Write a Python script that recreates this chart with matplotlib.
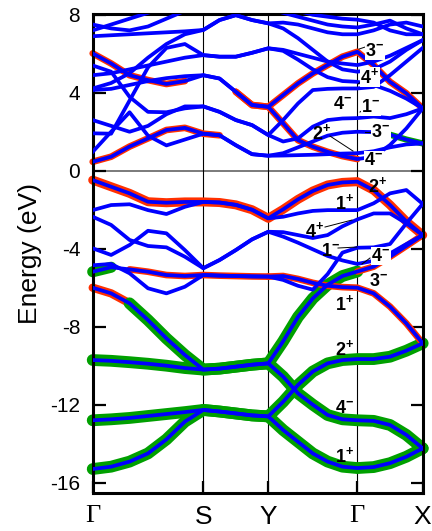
import numpy as np
import matplotlib.pyplot as plt

plt.rcParams['font.family'] = ['Liberation Sans', 'DejaVu Sans']
plt.rcParams['mathtext.fontset'] = 'custom'
plt.rcParams['mathtext.rm'] = 'Liberation Sans'
plt.rcParams['mathtext.bf'] = 'Liberation Sans:bold'

# high-symmetry path
kpath_labels = ['Γ', 'S', 'Y', 'Γ', 'X']
kpath_pos = [0.0, 110.6, 175.6, 264.6, 330.0]
seg_pts = [7, 5, 7, 5]

k = [np.linspace(kpath_pos[0], kpath_pos[1], seg_pts[0])]
for i in range(1, 4):
    k.append(np.linspace(kpath_pos[i], kpath_pos[i + 1], seg_pts[i])[1:])
k = np.concatenate(k)

# valence bands (eV), read along G-S | S-Y | Y-G | G-X
v1 = [-15.3, -15.18, -14.92, -14.5, -13.78, -12.87, -12.27, -12.35, -12.45, -12.55, -12.6,
      -13.3, -13.9, -14.5, -14.92, -15.18, -15.25, -15.2, -15.0, -14.67, -14.24]
v2 = [-12.8, -12.75, -12.68, -12.58, -12.48, -12.38, -12.27, -12.35, -12.45, -12.55, -12.6,
      -11.85, -10.99, -10.3, -9.88, -9.71, -9.66, -9.66, -9.54, -9.23, -8.85]
v3 = [-9.71, -9.75, -9.82, -9.9, -10.0, -10.12, -10.2, -10.15, -10.05, -9.95, -9.88,
      -10.56, -11.42, -12.0, -12.53, -12.75, -12.8, -12.83, -13.04, -13.55, -14.24]
v4 = [-6.0, -6.29, -6.8, -7.66, -8.6, -9.45, -10.2, -10.15, -10.05, -9.95, -9.88,
      -8.75, -7.5, -6.55, -5.85, -5.4, -5.17, -4.92, -4.41, -3.86, -3.3]
v5 = [-0.48, -0.82, -1.16, -1.59, -1.64, -1.6, -1.6, -1.63, -1.75, -2.0, -2.44,
      -1.98, -1.47, -1.04, -0.73, -0.6, -0.56, -1.0, -1.75, -2.6, -3.3]
v6 = [-2.02, -1.76, -1.72, -2.02, -2.22, -1.85, -1.6, -1.63, -1.75, -2.0, -2.44,
      -2.36, -2.19, -2.06, -2.02, -2.02, -2.02, -1.67, -1.16, -0.99, -1.7]
v7 = [-2.36, -2.78, -3.55, -3.86, -3.93, -4.41, -5.0, -4.58, -4.07, -3.52, -3.13,
      -3.15, -3.3, -3.45, -3.3, -2.85, -2.5, -2.19, -2.19, -2.7, -3.3]
v8 = [-3.98, -4.32, -3.81, -3.08, -3.21, -4.07, -5.0, -4.58, -4.07, -3.52, -3.13,
      -3.38, -3.69, -4.03, -4.37, -4.6, -4.78, -4.62, -4.24, -3.76, -3.3]
v9 = [-4.85, -4.78, -5.26, -6.03, -6.29, -5.95, -5.35, -5.38, -5.4, -5.42, -5.43,
      -5.6, -5.9, -6.1, -5.3, -4.2, -3.95, -3.93, -3.76, -2.7, -1.7]
v10 = [-5.18, -4.95, -5.06, -5.18, -5.35, -5.4, -5.35, -5.38, -5.4, -5.42, -5.43,
       -5.4, -5.55, -5.75, -5.9, -5.97, -6.0, -6.29, -6.97, -7.83, -8.85]

# conduction bands (eV)
c1 = [0.46, 0.72, 1.24, 1.66, 2.09, 2.2, 1.9, 1.82, 1.31, 0.85, 0.77,
      0.78, 0.8, 0.82, 0.85, 0.88, 0.9, 1.0, 1.2, 1.35, 1.4]
c2 = [0.97, 2.0, 3.0, 1.8, 1.3, 1.6, 1.9, 1.82, 1.31, 0.85, 0.77,
      0.9, 1.2, 1.5, 1.8, 1.95, 2.0, 1.98, 1.85, 1.6, 1.4]
c3 = [1.92, 1.9, 3.6, 5.3, 6.3, 6.5, 5.93, 5.85, 5.85, 6.05, 6.28,
      6.15, 5.7, 5.2, 4.8, 4.6, 4.56, 4.4, 4.1, 3.7, 3.2]
c4 = [2.6, 2.3, 2.0, 2.3, 2.9, 3.3, 3.3, 3.02, 2.6, 2.34, 1.83,
      2.6, 3.45, 4.14, 4.2, 4.22, 4.22, 4.3, 4.9, 5.6, 6.3]
c5 = [5.4, 5.08, 3.79, 3.02, 3.0, 3.2, 3.3, 3.02, 2.6, 2.34, 1.83,
      1.5, 1.66, 2.26, 2.6, 2.68, 2.7, 2.78, 2.7, 2.9, 3.2]
c6 = [4.14, 4.2, 4.4, 4.6, 4.75, 4.85, 4.9, 4.73, 4.05, 3.37, 3.28,
      3.88, 4.48, 4.99, 5.42, 5.85, 6.1, 5.42, 4.56, 3.97, 3.2]
c7 = [6.02, 5.5, 4.9, 4.65, 4.45, 4.6, 4.9, 4.73, 4.05, 3.37, 3.28,
      2.43, 1.57, 1.23, 0.97, 0.75, 0.6, 0.72, 1.32, 2.17, 3.2]
c8 = [4.9, 5.0, 5.2, 5.4, 5.6, 5.8, 5.93, 5.85, 5.85, 6.05, 6.28,
      6.2, 6.0, 5.8, 5.6, 5.5, 5.42, 5.6, 5.9, 6.3, 6.7]
c9 = [4.22, 4.5, 5.0, 5.8, 6.5, 7.0, 7.22, 7.73, 7.98, 7.73, 7.56,
      7.3, 6.8, 6.2, 5.6, 5.2, 5.08, 5.2, 5.6, 6.2, 6.7]
c10 = [6.9, 6.95, 7.0, 7.05, 7.1, 7.15, 7.22, 7.73, 7.98, 7.73, 7.56,
       7.6, 7.5, 7.3, 7.1, 7.0, 7.0, 7.2, 7.5, 7.6, 7.4]
c11 = [7.2, 7.5, 7.8, 8.1, 8.4, 8.5, 8.5, 8.4, 8.3, 8.3, 8.3,
       8.1, 7.9, 7.7, 7.5, 7.4, 7.35, 7.5, 7.7, 7.3, 7.0]
c12 = [7.5, 7.3, 7.2, 7.4, 7.8, 8.2, 8.5, 8.4, 8.3, 8.3, 8.3,
       8.4, 8.2, 8.0, 7.9, 7.8, 7.75, 7.6, 7.2, 7.0, 7.0]

bands = [v1, v2, v3, v4, v5, v6, v7, v8, v9, v10,
         c1, c2, c3, c4, c5, c6, c7, c8, c9, c10, c11, c12]

# fat-band weights: (band index, first point, last point, colour, width)
RED = '#ff3000'
GREEN = '#00a000'
fat = [
    (0, 0, 20, GREEN, 8.5), (1, 0, 20, GREEN, 8.5), (2, 0, 20, GREEN, 8.5),
    (3, 0, 2, RED, 6), (3, 2, 16, GREEN, 8.5), (3, 16, 20, RED, 4.8),
    (4, 0, 20, RED, 6.5),
    (9, 0, 1, GREEN, 8), (9, 2, 10, RED, 4.8), (9, 10, 20, RED, 4.8),
    (10, 0, 7, RED, 4.8),
    (15, 8, 20, RED, 4.8),
    (16, 0, 5, RED, 4.8), (16, 8, 16, RED, 4.8),
    (11, 17, 20, GREEN, 4.5),
]

fig = plt.figure(figsize=(4.32, 5.31), dpi=100)
ax = fig.add_axes([92.7 / 432, 1 - 493 / 531, 330 / 432, 479 / 531])

for b, i0, i1, col, lw in fat:
    ax.plot(k[i0:i1 + 1], np.array(bands[b])[i0:i1 + 1], color=col, lw=lw,
            solid_capstyle='round', solid_joinstyle='round', zorder=2,
            clip_on=(i0 != 0))
for e in bands:
    ax.plot(k, e, color='#0000ff', lw=2.7, solid_joinstyle='round', zorder=3)

ax.axhline(0, color='#707070', lw=1.3, zorder=1)
for kp in kpath_pos[1:-1]:
    ax.axvline(kp, color='black', lw=0.8, zorder=1)

ax.set_xlim(kpath_pos[0], kpath_pos[-1])
ax.set_ylim(-16.53, 8.04)
ax.set_yticks([-16, -12, -8, -4, 0, 4, 8])
ax.set_yticklabels(['-16', '-12', '-8', '-4', '0', '4', '8'])
ax.set_xticks(kpath_pos)
ax.set_xticklabels(kpath_labels)
for lab, t in zip(ax.get_xticklabels(), kpath_labels):
    if t == 'Γ':
        lab.set_family('Liberation Serif')
ax.tick_params(axis='y', direction='in', length=9, width=1.6, labelsize=15,
               pad=9, right=True)
ax.tick_params(axis='x', direction='in', length=9, width=1.6, labelsize=19,
               pad=9)
for s in ax.spines.values():
    s.set_linewidth(2.2)
ax.set_ylabel('Energy (eV)', fontsize=19, labelpad=6)

# irreducible representation labels: (k, E, text)
def px(x, y):
    return x - 92.7, (170.7 - y) / 19.5

irreps = [
    (375, 51, '3', '-'), (370, 77, '4', '+'), (343, 104, '4', '-'),
    (371, 107, '1', '-'), (322, 133, '2', '+'), (381, 132, '3', '-'),
    (374, 160, '4', '-'),
    (378, 186, '2', '+'), (345, 203, '1', '+'), (315, 231, '4', '+'),
    (331, 251, '1', '-'), (381, 256, '4', '-'), (379, 281, '3', '-'),
    (345, 304, '1', '+'),
    (345, 349, '2', '+'), (345, 409, '4', '-'), (345, 456, '1', '+'),
]
boxed = {(343, 104), (371, 107), (381, 132), (374, 160), (381, 256), (370, 77), (375, 51)}
for x, y, n, s in irreps:
    kx, ey = px(x, y)
    txt = r'$\mathbf{%s}^{\mathbf{%s}}$' % (n, s)
    kw = {}
    if (x, y) in boxed:
        kw['bbox'] = dict(facecolor='white', edgecolor='none', pad=0.3)
    ax.text(kx, ey, txt, fontsize=13, ha='center', va='center', zorder=6, **kw)

pointers = [
    ((330, 136), (353, 151)), ((325, 227), (352, 220)), ((338, 248), (357, 247)),
    ((370, 258), (362, 264)), ((359, 49), (365, 47)), ((358, 84), (362, 81)),
    ((360, 112), (364, 109)), ((365, 132), (370, 132)),
]
for (x0, y0), (x1, y1) in pointers:
    a0, b0 = px(x0, y0)
    a1, b1 = px(x1, y1)
    ax.plot([a0, a1], [b0, b1], color='black', lw=0.7, zorder=5)

fig.savefig('out.png', dpi=100)
